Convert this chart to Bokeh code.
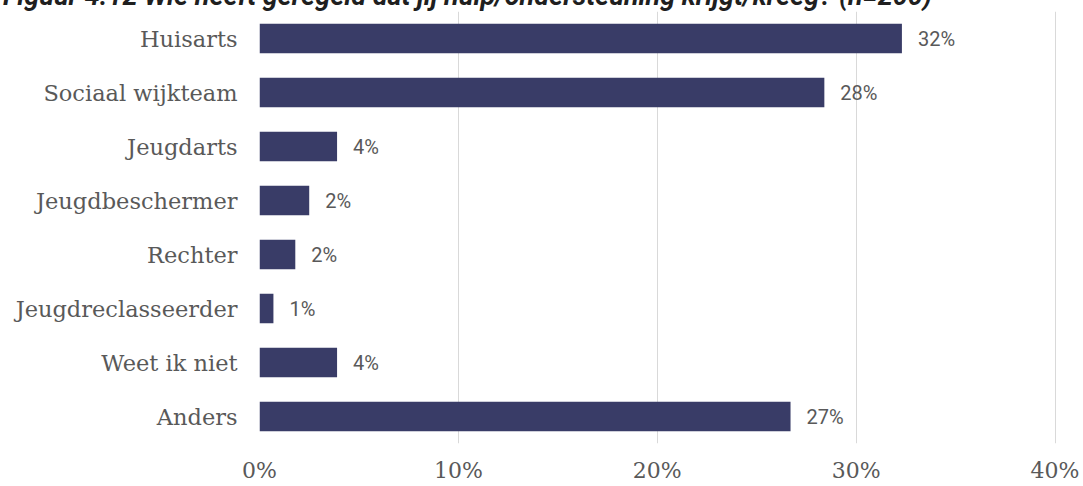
from bokeh.plotting import figure
from bokeh.models import ColumnDataSource, FactorRange, Range1d, FixedTicker, Div
from bokeh.layouts import column
from bokeh.core.properties import value
from bokeh.embed import file_html
from bokeh.resources import INLINE

categories = ["Huisarts", "Sociaal wijkteam", "Jeugdarts", "Jeugdbeschermer",
              "Rechter", "Jeugdreclasseerder", "Weet ik niet", "Anders"]
values = [32.3, 28.4, 3.9, 2.5, 1.8, 0.7, 3.9, 26.7]
value_labels = ["32%", "28%", "4%", "2%", "2%", "1%", "4%", "27%"]
x_ticks = [0, 10, 20, 30, 40]
x_tick_labels = ["0%", "10%", "20%", "30%", "40%"]
title_text = "Figuur 4.12 Wie heeft geregeld dat jij hulp/ondersteuning krijgt/kreeg? (n=200)"

# --- clipped title strip (the reference shows only the lower part of the title) ---
title_html = (
    '<div style="position:absolute; left:3px; top:-17px; white-space:nowrap; '
    'font-family:Roboto; font-weight:bold; font-style:italic; font-size:27px; '
    'line-height:1; color:#1f1f1f; margin:0; padding:0;">' + title_text + '</div>'
)
t = Div(text=title_html, width=1083, height=11,
        styles={"overflow": "hidden", "position": "relative", "margin": "0", "padding": "0"})

# --- main chart ---
src = ColumnDataSource(dict(cat=categories, val=values, lab=value_labels))

p = figure(width=1083, height=475, frame_width=824, frame_height=432,
           output_backend="svg", toolbar_location=None,
           y_range=FactorRange(*reversed(categories), range_padding=0),
           x_range=Range1d(0, 41.43),
           min_border_left=259, min_border_right=0, min_border_top=0, min_border_bottom=0)
p.outline_line_color = None
p.background_fill_color = "white"
p.border_fill_color = "white"

p.hbar(y="cat", right="val", left=0, height=0.55, source=src,
       fill_color="#393c67", line_color=None)
p.text(x="val", y="cat", text="lab", source=src, x_offset=16,
       text_baseline="middle", text_align="left",
       text_font=value("Roboto"), text_font_size="20px", text_color="#595959")

p.ygrid.grid_line_color = None
p.xgrid.grid_line_color = "#d9d9d9"
p.xgrid.grid_line_width = 1
p.xaxis.ticker = FixedTicker(ticks=x_ticks)
p.xaxis.major_label_overrides = {tk: lb for tk, lb in zip(x_ticks, x_tick_labels)}

for ax in (p.xaxis, p.yaxis):
    ax.axis_line_color = None
    ax.major_tick_line_color = None
    ax.minor_tick_line_color = None
    ax.major_label_text_font = "DejaVu Serif"
    ax.major_label_text_color = "#595959"
    ax.major_label_text_font_style = "normal"

p.yaxis.major_label_text_font_size = "22.5px"
p.yaxis.major_label_standoff = 16
p.xaxis.major_label_text_font_size = "22px"
p.xaxis.major_label_text_line_height = 1.0
p.xaxis.major_label_standoff = 8

layout = column(t, p, spacing=0)
open("out.html", "w").write(file_html(layout, INLINE))
